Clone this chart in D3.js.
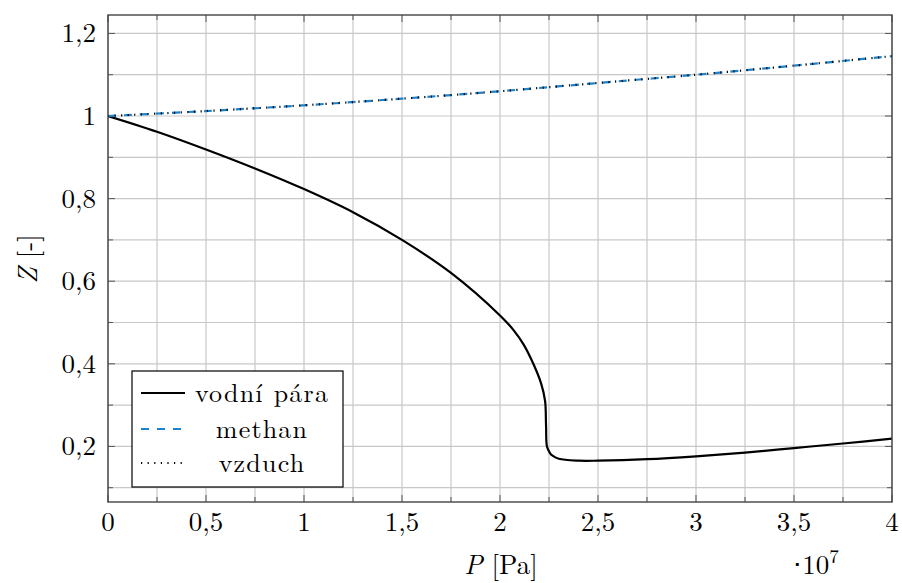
<!DOCTYPE html>
<html><head><meta charset="utf-8">
<script src="https://cdn.jsdelivr.net/npm/d3@7"></script>
<style>
body{margin:0;background:#fff;}
text{font-family:"Latin Modern Roman","CMU Serif","Liberation Serif",serif;fill:#000;}
</style></head>
<body><svg id="c" width="902" height="583"></svg>
<script>
// pressure in Pa
const pressureSteam = [0,0.25e7,0.5e7,0.75e7,1.0e7,1.25e7,1.5e7,1.75e7,2.0e7,2.07e7,2.12e7,2.17e7,2.21e7,2.23e7,2.235e7,2.24e7,2.255e7,2.27e7,2.3e7,2.4e7,2.5e7,2.75e7,3.0e7,3.25e7,3.5e7,3.75e7,4.0e7];
const zSteam = [1.000,0.962,0.919,0.873,0.823,0.767,0.700,0.620,0.517,0.481,0.447,0.400,0.352,0.310,0.250,0.199,0.184,0.177,0.170,0.1655,0.1655,0.169,0.176,0.185,0.196,0.207,0.219];
const pressureGas = [0,0.5e7,1.0e7,1.5e7,2.0e7,2.5e7,3.0e7,3.5e7,4.0e7];
const zMethan = [1.000,1.012,1.026,1.042,1.060,1.080,1.100,1.122,1.145];
const zAir = [1.000,1.012,1.026,1.042,1.060,1.080,1.100,1.122,1.145];
const seriesNames = ["vodní pára","methan","vzduch"];
const xTicks = [0,0.5e7,1e7,1.5e7,2e7,2.5e7,3e7,3.5e7,4e7];
const xTickLabels = ["0","0,5","1","1,5","2","2,5","3","3,5","4"];
const yTicks = [0.2,0.4,0.6,0.8,1.0,1.2];
const yTickLabels = ["0,2","0,4","0,6","0,8","1","1,2"];

const svg = d3.select("#c");
const L=108,R=892,T=15,B=502;
const x = d3.scaleLinear().domain([0,4e7]).range([L,R]);
const y = d3.scaleLinear().domain([0.0654,1.2446]).range([B,T]);

// grid
const xGrid = d3.range(0,4e7+1,0.25e7);
const yGrid = d3.range(0.1,1.21,0.1);
const g = svg.append("g");
g.selectAll("line.vx").data(xGrid).join("line")
  .attr("x1",d=>x(d)).attr("x2",d=>x(d)).attr("y1",T).attr("y2",B)
  .attr("stroke","#c8c8c8").attr("stroke-width",1.2);
g.selectAll("line.hy").data(yGrid).join("line")
  .attr("y1",d=>y(d)).attr("y2",d=>y(d)).attr("x1",L).attr("x2",R)
  .attr("stroke","#c8c8c8").attr("stroke-width",1.2);

// ticks (inside, all sides)
const tk = svg.append("g").attr("stroke","#555").attr("stroke-width",1);
xGrid.forEach((d,i)=>{
  const len = (i%2===0)?7:5;
  tk.append("line").attr("x1",x(d)).attr("x2",x(d)).attr("y1",B).attr("y2",B-len);
  tk.append("line").attr("x1",x(d)).attr("x2",x(d)).attr("y1",T).attr("y2",T+len);
});
yGrid.forEach((d,i)=>{
  const len = (i%2===1)?7:5;
  tk.append("line").attr("y1",y(d)).attr("y2",y(d)).attr("x1",L).attr("x2",L+len);
  tk.append("line").attr("y1",y(d)).attr("y2",y(d)).attr("x1",R).attr("x2",R-len);
});

// lines
const line = d3.line().x(d=>x(d[0])).y(d=>y(d[1])).curve(d3.curveCatmullRom.alpha(0.5));
const steam = pressureSteam.map((p,i)=>[p,zSteam[i]]);
const methan = pressureGas.map((p,i)=>[p,zMethan[i]]);
const air = pressureGas.map((p,i)=>[p,zAir[i]]);
svg.append("clipPath").attr("id","clp").append("rect").attr("x",L).attr("y",T).attr("width",R-L).attr("height",B-T);
const pl = svg.append("g").attr("clip-path","url(#clp)");
pl.append("path").datum(steam).attr("d",line).attr("fill","none").attr("stroke","#000").attr("stroke-width",2.2).attr("stroke-linejoin","round");
pl.append("path").datum(methan).attr("d",line).attr("fill","none").attr("stroke","#1b84cc").attr("stroke-width",2.2).attr("stroke-dasharray","8,8");
pl.append("path").datum(air).attr("d",line).attr("fill","none").attr("stroke","#000").attr("stroke-width",2.2).attr("stroke-dasharray","1.2,5.4");

// frame
svg.append("rect").attr("x",L).attr("y",T).attr("width",R-L).attr("height",B-T)
  .attr("fill","none").attr("stroke","#444").attr("stroke-width",1.4);

// tick labels
svg.append("g").selectAll("text").data(xTicks).join("text")
  .attr("x",d=>x(d)).attr("y",531).attr("text-anchor","middle").attr("font-size",27)
  .text((d,i)=>xTickLabels[i]);
svg.append("g").selectAll("text").data(yTicks).join("text")
  .attr("x",96).attr("y",d=>y(d)+9).attr("text-anchor","end").attr("font-size",27)
  .text((d,i)=>yTickLabels[i]);

// axis titles
const xt = svg.append("text").attr("x",501).attr("y",574).attr("text-anchor","middle").attr("font-size",27);
xt.append("tspan").attr("font-style","italic").text("P");
xt.append("tspan").text(" [Pa]");
const sc = svg.append("text").attr("x",816).attr("y",574).attr("text-anchor","middle").attr("font-size",27);
sc.append("tspan").text("⋅10");
sc.append("tspan").attr("font-size",19).attr("dy",-11).text("7");
const yt = svg.append("text").attr("transform","translate(37,259) rotate(-90)").attr("text-anchor","middle").attr("font-size",27);
yt.append("tspan").attr("font-style","italic").text("Z");
yt.append("tspan").text(" [-]");

// legend
const lg = svg.append("g");
lg.append("rect").attr("x",132).attr("y",371).attr("width",211).attr("height",116)
  .attr("fill","#fff").attr("stroke","#000").attr("stroke-width",1.2);
const rows=[393,429,463];
const styles=[{c:"#000",d:null},{c:"#1b84cc",d:"8,8"},{c:"#000",d:"1.2,5.4"}];
rows.forEach((ry,i)=>{
  const ln = lg.append("line").attr("x1",141).attr("x2",185).attr("y1",ry).attr("y2",ry)
    .attr("stroke",styles[i].c).attr("stroke-width",2.2);
  if(styles[i].d) ln.attr("stroke-dasharray",styles[i].d);
  lg.append("text").attr("x",262).attr("y",ry+9).attr("text-anchor","middle").attr("font-size",26)
    .attr("letter-spacing",1.2).text(seriesNames[i]);
});
</script></body></html>
